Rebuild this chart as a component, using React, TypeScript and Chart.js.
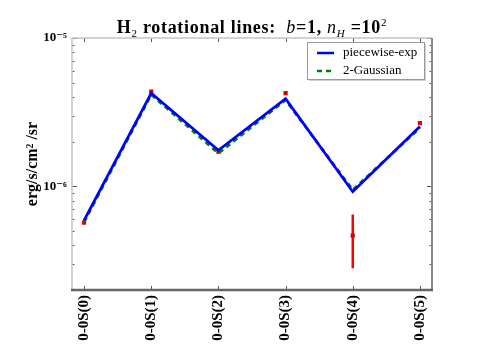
import React, { useEffect, useRef } from 'react';
import { Chart, registerables } from 'chart.js';

Chart.register(...registerables);

const categories = ['0-0S(0)', '0-0S(1)', '0-0S(2)', '0-0S(3)', '0-0S(4)', '0-0S(5)'];
const piecewiseExp = [5.9e-7, 4.25e-6, 1.75e-6, 3.9e-6, 9.2e-7, 2.53e-6];
const twoGaussian = [5.75e-7, 4.15e-6, 1.67e-6, 3.82e-6, 9.45e-7, 2.48e-6];
const observed = [5.7e-7, 4.35e-6, 1.71e-6, 4.25e-6, 4.66e-7, 2.67e-6];
const observedLow = [5.55e-7, 4.25e-6, 1.67e-6, 4.15e-6, 2.8e-7, 2.6e-6];
const observedHigh = [5.85e-7, 4.45e-6, 1.75e-6, 4.35e-6, 6.45e-7, 2.74e-6];
const yMajorTicks = [1e-6, 1e-5];
const yMajorLabels = ['10⁻⁶', '10⁻⁵'];
const yMinorTicks = [2e-7, 3e-7, 4e-7, 5e-7, 6e-7, 7e-7, 8e-7, 9e-7, 2e-6, 3e-6, 4e-6, 5e-6, 6e-6, 7e-6, 8e-6, 9e-6];
const legendLabels = ['piecewise-exp', '2-Gaussian'];

const SERIF = '"Liberation Serif", "DejaVu Serif", serif';

const framePlugin = {
  id: 'frameTicks',
  afterDraw(chart: any) {
    const { ctx, chartArea: a, scales } = chart;
    const xs = scales.x;
    const ys = scales.y;
    ctx.save();
    // inward ticks
    ctx.strokeStyle = '#555';
    ctx.lineWidth = 1;
    categories.forEach((_, i) => {
      const px = Math.round(xs.getPixelForValue(i)) + 0.5;
      ctx.beginPath();
      ctx.moveTo(px, a.bottom); ctx.lineTo(px, a.bottom - 4);
      ctx.moveTo(px, a.top); ctx.lineTo(px, a.top + 4);
      ctx.stroke();
    });
    const yt = (v: number, len: number) => {
      const py = Math.round(ys.getPixelForValue(v)) + 0.5;
      ctx.beginPath();
      ctx.moveTo(a.left, py); ctx.lineTo(a.left + len, py);
      ctx.moveTo(a.right, py); ctx.lineTo(a.right - len, py);
      ctx.stroke();
    };
    yMinorTicks.forEach((v) => yt(v, 2.5));
    yMajorTicks.forEach((v) => yt(v, 5));
    // frame
    ctx.lineWidth = 1.5;
    ctx.strokeStyle = '#c4c4c4';
    ctx.beginPath();
    ctx.moveTo(a.left, a.bottom); ctx.lineTo(a.left, a.top); ctx.lineTo(a.right, a.top);
    ctx.stroke();
    ctx.strokeStyle = '#8a8a8a';
    ctx.lineWidth = 2;
    ctx.beginPath();
    ctx.moveTo(a.right, a.top); ctx.lineTo(a.right, a.bottom);
    ctx.stroke();
    ctx.strokeStyle = '#666';
    ctx.lineWidth = 2.5;
    ctx.beginPath();
    ctx.moveTo(a.left - 1, a.bottom); ctx.lineTo(a.right + 1, a.bottom);
    ctx.stroke();

    // title
    const cx = (a.left + a.right) / 2;
    const baseY = 33;
    const big = 18;
    const small = 11;
    const segs: [string, string, number][] = [
      ['H', `bold ${big}px ${SERIF}`, 0],
      ['2', `${small}px ${SERIF}`, 4],
      [' rotational lines:  ', `bold ${big}px ${SERIF}`, 0],
      ['b', `italic ${big}px ${SERIF}`, 0],
      ['=1, ', `bold ${big}px ${SERIF}`, 0],
      ['n', `italic ${big}px ${SERIF}`, 0],
      ['H', `italic ${small}px ${SERIF}`, 4],
      [' =10', `bold ${big}px ${SERIF}`, 0],
      ['2', `${small}px ${SERIF}`, -7],
    ];
    (ctx as any).letterSpacing = '0.7px';
    let total = 0;
    segs.forEach(([t, f]) => { ctx.font = f; total += ctx.measureText(t).width; });
    let x = cx - total / 2;
    ctx.fillStyle = '#000';
    ctx.textBaseline = 'alphabetic';
    ctx.textAlign = 'left';
    segs.forEach(([t, f, dy]) => {
      ctx.font = f;
      ctx.fillText(t, x, baseY + dy);
      x += ctx.measureText(t).width;
    });
    (ctx as any).letterSpacing = '0px';

    // legend
    const lx = 307, ly = 42, lw = 117, lh = 37;
    ctx.fillStyle = 'rgba(120,120,120,0.35)';
    ctx.fillRect(lx + 2, ly + 2, lw, lh);
    ctx.fillStyle = '#fff';
    ctx.fillRect(lx, ly, lw, lh);
    ctx.strokeStyle = '#999';
    ctx.lineWidth = 1;
    ctx.strokeRect(lx + 0.5, ly + 0.5, lw, lh);
    const rows = [
      { color: '#0000ff', dash: [] as number[], y: ly + 11 },
      { color: '#008000', dash: [5, 4], y: ly + 29 },
    ];
    rows.forEach((r, i) => {
      ctx.strokeStyle = r.color;
      ctx.lineWidth = 2.5;
      ctx.setLineDash(r.dash);
      ctx.beginPath();
      ctx.moveTo(lx + 10, r.y); ctx.lineTo(lx + 27, r.y);
      ctx.stroke();
      ctx.setLineDash([]);
      ctx.fillStyle = '#000';
      ctx.font = `13px ${SERIF}`;
      ctx.textBaseline = 'middle';
      ctx.fillText(legendLabels[i], lx + 36, r.y);
    });
    ctx.restore();
  },
  beforeDatasetsDraw(chart: any) {
    const { ctx, scales } = chart;
    ctx.save();
    ctx.strokeStyle = '#ff0000';
    ctx.lineWidth = 2.5;
    observed.forEach((_, i) => {
      const px = scales.x.getPixelForValue(i);
      ctx.beginPath();
      ctx.moveTo(px, scales.y.getPixelForValue(observedLow[i]));
      ctx.lineTo(px, scales.y.getPixelForValue(observedHigh[i]));
      ctx.stroke();
    });
    ctx.restore();
  },
};

export default function App() {
  const ref = useRef<HTMLCanvasElement>(null);
  useEffect(() => {
    if (!ref.current) return;
    const toPts = (arr: number[]) => arr.map((v, i) => ({ x: i, y: v }));
    const chart = new Chart(ref.current, {
      type: 'line',
      data: {
        datasets: [
          {
            label: legendLabels[0],
            data: toPts(piecewiseExp),
            borderColor: '#0000ff',
            borderWidth: 2.8,
            pointRadius: 0,
            tension: 0,
            order: 1,
          },
          {
            label: legendLabels[1],
            data: toPts(twoGaussian),
            borderColor: '#008000',
            borderWidth: 2.8,
            borderDash: [5, 4],
            pointRadius: 0,
            tension: 0,
            order: 2,
          },
          {
            label: 'data',
            data: toPts(observed),
            showLine: false,
            pointRadius: 3,
            pointStyle: 'rect',
            pointBackgroundColor: '#e00000',
            pointBorderColor: '#e00000',
            borderWidth: 0,
            order: 3,
          },
        ],
      },
      options: {
        responsive: false,
        animation: false,
        layout: { padding: { top: 38, right: 48, left: 0, bottom: 0 } },
        plugins: { legend: { display: false }, tooltip: { enabled: false }, title: { display: false } },
        scales: {
          x: {
            type: 'linear',
            min: -0.18,
            max: 5.18,
            afterBuildTicks: (s: any) => { s.ticks = categories.map((_, i) => ({ value: i })); },
            afterFit: (s: any) => { s.height = 73; },
            grid: { display: false, drawTicks: false },
            border: { display: false },
            ticks: {
              autoSkip: false,
              minRotation: 90,
              maxRotation: 90,
              padding: 5,
              color: '#000',
              font: { family: SERIF, size: 15, weight: 'bold' },
              callback: (v: any) => categories[v as number] ?? '',
            },
          },
          y: {
            type: 'logarithmic',
            min: 2e-7,
            max: 1e-5,
            afterBuildTicks: (s: any) => { s.ticks = yMajorTicks.map((v) => ({ value: v })); },
            afterFit: (s: any) => { s.width = 72; },
            grid: { display: false, drawTicks: false },
            border: { display: false },
            ticks: {
              autoSkip: false,
              padding: 5,
              color: '#000',
              font: { family: SERIF, size: 13, weight: 'bold' },
              callback: (v: any) => {
                const idx = yMajorTicks.findIndex((t) => Math.abs(t - v) / t < 1e-6);
                return idx >= 0 ? yMajorLabels[idx] : '';
              },
            },
            title: {
              display: true,
              text: 'erg/s/cm² /sr',
              color: '#000',
              font: { family: SERIF, size: 16, weight: 'bold' },
              padding: { top: 23, bottom: 0 },
            },
          },
        },
      },
      plugins: [framePlugin],
    });
    return () => chart.destroy();
  }, []);
  return (
    <div style={{ position: 'absolute', left: 0, top: 0, width: 480, height: 363, background: '#fff' }}>
      <canvas ref={ref} width={480} height={363} />
    </div>
  );
}
